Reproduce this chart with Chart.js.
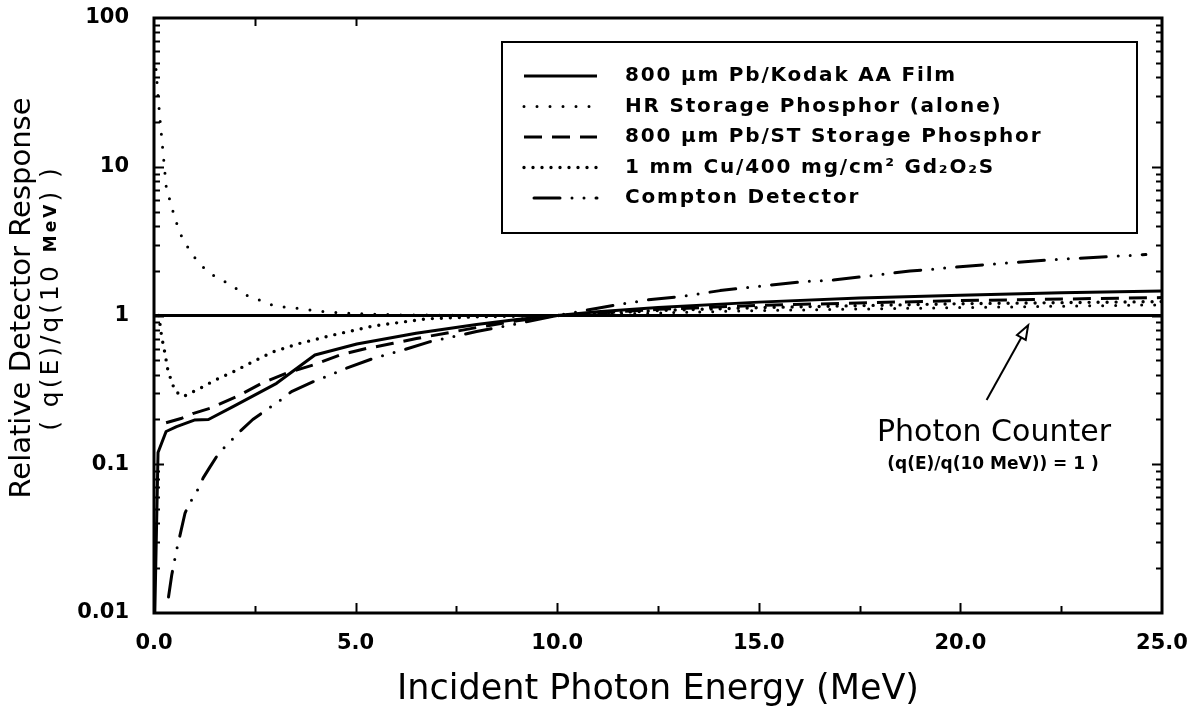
<!DOCTYPE html>
<html>
<head>
<meta charset="utf-8">
<script src="https://cdn.jsdelivr.net/npm/chart.js@4.4.1/dist/chart.umd.min.js"></script>
<style>
  html, body { margin: 0; padding: 0; background: #fff; }
  #wrap { width: 1204px; height: 711px; }
</style>
</head>
<body>
<div id="wrap"><canvas id="c" width="1204" height="711"></canvas></div>
<script>
const FONT = '"DejaVu Sans", sans-serif';

// Incident photon energy (MeV) and relative response q(E)/q(10 MeV) per detector
const kodakE = [0.02, 0.1, 0.3, 0.56, 1.0, 1.35, 1.96, 3.04, 3.99, 5.03, 6.5, 8.0, 9.0, 10.0, 11.0, 12.5, 15.0, 17.5, 20.0, 22.5, 25.0];
const kodakR = [0.01, 0.12, 0.166, 0.179, 0.198, 0.2, 0.244, 0.35, 0.543, 0.643, 0.76, 0.87, 0.94, 1.0, 1.06, 1.13, 1.23, 1.31, 1.37, 1.42, 1.46];

const hrE = [0.05, 0.1, 0.15, 0.31, 0.42, 0.48, 0.59, 0.71, 0.89, 1.1, 1.41, 1.74, 2.05, 2.34, 2.65, 2.98, 3.64, 4.24, 5.0, 6.0, 8.0, 10.0, 12.5, 15.0, 20.0, 25.0];
const hrR = [45, 30, 20.6, 7.0, 5.7, 4.9, 3.95, 3.27, 2.73, 2.26, 1.9, 1.7, 1.51, 1.35, 1.26, 1.16, 1.11, 1.06, 1.03, 1.01, 1.0, 1.0, 1.04, 1.08, 1.13, 1.18];

const stE = [0.3, 0.69, 0.98, 1.39, 2.05, 2.67, 3.29, 3.95, 4.61, 5.27, 5.93, 6.51, 8.0, 9.0, 10.0, 12.5, 15.0, 20.0, 25.0];
const stR = [0.19, 0.204, 0.22, 0.238, 0.285, 0.35, 0.41, 0.465, 0.543, 0.6, 0.65, 0.7, 0.83, 0.92, 1.0, 1.1, 1.17, 1.26, 1.32];

const cuE = [0.12, 0.19, 0.27, 0.35, 0.44, 0.52, 0.73, 0.98, 1.22, 1.47, 1.97, 2.46, 2.96, 3.62, 4.45, 5.44, 6.76, 8.0, 10.0, 12.5, 15.0, 20.0, 25.0];
const cuR = [1.0, 0.72, 0.56, 0.42, 0.36, 0.31, 0.285, 0.308, 0.332, 0.363, 0.419, 0.49, 0.571, 0.65, 0.74, 0.85, 0.95, 0.98, 1.0, 1.08, 1.13, 1.2, 1.24];

const comptonE = [0.36, 0.44, 0.56, 0.63, 0.77, 0.89, 1.06, 1.22, 1.39, 1.6, 2.13, 2.45, 2.78, 3.08, 3.41, 3.95, 4.37, 4.65, 5.44, 6.18, 6.85, 8.0, 9.0, 10.0, 11.0, 12.2, 13.05, 14.04, 14.87, 16.23, 16.85, 18.75, 20.65, 22.47, 23.71, 24.6];
const comptonR = [0.0128, 0.018, 0.0265, 0.032, 0.047, 0.055, 0.0655, 0.081, 0.096, 0.118, 0.166, 0.2, 0.231, 0.263, 0.308, 0.359, 0.398, 0.43, 0.515, 0.586, 0.667, 0.78, 0.88, 1.0, 1.12, 1.27, 1.34, 1.47, 1.56, 1.7, 1.73, 1.99, 2.2, 2.39, 2.49, 2.57];

// Ideal photon counter: flat unit response
const counterE = [0, 25];
const counterR = [1, 1];

const seriesLabels = [
  '800 \u03bcm Pb/Kodak AA Film',
  'HR Storage Phosphor (alone)',
  '800 \u03bcm Pb/ST Storage Phosphor',
  '1 mm Cu/400 mg/cm\u00b2 Gd\u2082O\u2082S',
  'Compton Detector'
];

const xTickValues = [0, 5, 10, 15, 20, 25];
const xTickLabels = ['0.0', '5.0', '10.0', '15.0', '20.0', '25.0'];
const yTickValues = [0.01, 0.1, 1, 10, 100];
const yTickLabels = ['0.01', '0.1', '1', '10', '100'];

// Annotation anchor (data coordinates): arrow from the label up to the unit line
const arrowTail = { x: 20.65, y: 0.27 };
const arrowTip = { x: 21.68, y: 0.86 };

const zip = (xs, ys) => xs.map((x, i) => ({ x, y: ys[i] }));

function lineSet(label, xs, ys, style) {
  return Object.assign({
    label,
    data: zip(xs, ys),
    borderColor: '#000',
    backgroundColor: '#000',
    borderWidth: 3,
    borderDash: [],
    borderCapStyle: 'butt',
    borderJoinStyle: 'round',
    pointRadius: 0,
    fill: false,
    tension: 0
  }, style);
}

const datasets = [
  lineSet(seriesLabels[0], kodakE, kodakR, { borderWidth: 3 }),
  lineSet(seriesLabels[1], hrE, hrR, { borderWidth: 3, borderDash: [0, 13], borderCapStyle: 'round' }),
  lineSet(seriesLabels[2], stE, stR, { borderWidth: 3, borderDash: [18, 10] }),
  lineSet(seriesLabels[3], cuE, cuR, { borderWidth: 3.4, borderDash: [0, 9], borderCapStyle: 'round' }),
  lineSet(seriesLabels[4], comptonE, comptonR, { borderWidth: 3, borderDash: [26, 12, 0, 12, 0, 12], borderCapStyle: 'round' }),
  lineSet('Photon Counter', counterE, counterR, { borderWidth: 3, inLegend: false })
];

// Frame, inward tick marks, boxed legend, axis titles and the photon-counter note
const decorations = {
  id: 'decorations',
  afterDatasetsDraw(chart) {
    const ctx = chart.ctx;
    const a = chart.chartArea;
    const xs = chart.scales.x, ys = chart.scales.y;
    ctx.save();
    ctx.strokeStyle = '#000';
    ctx.fillStyle = '#000';

    // inward log ticks on left and right edges
    ctx.lineWidth = 2;
    for (let d = 0.01; d < 100; d *= 10) {
      for (let k = 1; k <= 9; k++) {
        const v = d * k;
        if (v <= 0.01 || v >= 100) continue;
        const py = Math.round(ys.getPixelForValue(v)) + 0.5;
        const len = k === 1 ? 10 : 6;
        ctx.beginPath();
        ctx.moveTo(a.left, py); ctx.lineTo(a.left + len, py);
        ctx.moveTo(a.right, py); ctx.lineTo(a.right - len, py);
        ctx.stroke();
      }
    }
    // inward ticks along the bottom and (partly) the top
    for (let e = 2.5; e < 25; e += 2.5) {
      const px = Math.round(xs.getPixelForValue(e)) + 0.5;
      const len = (e % 5 === 0) ? 10 : 7;
      ctx.beginPath();
      ctx.moveTo(px, a.bottom); ctx.lineTo(px, a.bottom - len);
      ctx.stroke();
      if (e <= 5) {
        ctx.beginPath();
        ctx.moveTo(px, a.top); ctx.lineTo(px, a.top + 8);
        ctx.stroke();
      }
    }

    // plot frame
    ctx.lineWidth = 3;
    ctx.strokeRect(a.left, a.top, a.right - a.left, a.bottom - a.top);

    // legend box
    const lx = 502, ly = 42, lw = 635, lh = 191;
    ctx.lineWidth = 2;
    ctx.strokeRect(lx, ly, lw, lh);
    ctx.font = 'bold 20px ' + FONT;
    ctx.textBaseline = 'middle';
    ctx.textAlign = 'left';
    let row = 0;
    chart.data.datasets.forEach(ds => {
      if (ds.inLegend === false) return;
      const cy = 76 + row * 30.5;
      ctx.save();
      ctx.lineWidth = ds.borderWidth;
      ctx.setLineDash(ds.borderDash || []);
      ctx.lineCap = ds.borderCapStyle || 'butt';
      if (row === 4) ctx.lineDashOffset = 52;
      ctx.beginPath();
      ctx.moveTo(524, cy); ctx.lineTo(597, cy);
      ctx.stroke();
      ctx.restore();
      ctx.save();
      ctx.letterSpacing = '1.8px';
      ctx.fillText(ds.label, 625, cy);
      ctx.restore();
      row++;
    });

    // photon counter note with arrow
    const tx = xs.getPixelForValue(arrowTail.x), ty = ys.getPixelForValue(arrowTail.y);
    const hx = xs.getPixelForValue(arrowTip.x), hy = ys.getPixelForValue(arrowTip.y);
    const ang = Math.atan2(hy - ty, hx - tx);
    const hl = 14, hw = 5;
    const bx = hx - hl * Math.cos(ang), by = hy - hl * Math.sin(ang);
    ctx.lineWidth = 2;
    ctx.beginPath();
    ctx.moveTo(tx, ty); ctx.lineTo(bx, by);
    ctx.stroke();
    ctx.beginPath();
    ctx.moveTo(hx, hy);
    ctx.lineTo(bx + hw * Math.sin(ang), by - hw * Math.cos(ang));
    ctx.lineTo(bx - hw * Math.sin(ang), by + hw * Math.cos(ang));
    ctx.closePath();
    ctx.stroke();

    ctx.textAlign = 'center';
    ctx.font = '30px ' + FONT;
    ctx.fillText('Photon Counter', 994, 433);
    ctx.font = 'bold 17px ' + FONT;
    ctx.fillText('(q(E)/q(10 MeV)) = 1 )', 993, 465);

    // axis titles
    ctx.font = '35px ' + FONT;
    ctx.fillText('Incident Photon Energy (MeV)', 658, 690);

    ctx.translate(22, 298);
    ctx.rotate(-Math.PI / 2);
    ctx.font = '29px ' + FONT;
    ctx.fillText('Relative Detector Response', 0, 0);
    // second line: ( q(E)/q(10 MeV) ) with a smaller unit
    ctx.letterSpacing = '3px';
    const p1 = '( q(E)/q(10 ', p2 = 'MeV', p3 = ') )';
    ctx.font = '25px ' + FONT; const w1 = ctx.measureText(p1).width, w3 = ctx.measureText(p3).width;
    ctx.font = 'bold 17px ' + FONT; const w2 = ctx.measureText(p2).width;
    let sx = -(w1 + w2 + w3) / 2;
    ctx.textAlign = 'left';
    ctx.font = '25px ' + FONT; ctx.fillText(p1, sx, 29); sx += w1;
    ctx.font = 'bold 17px ' + FONT; ctx.fillText(p2, sx, 30); sx += w2;
    ctx.font = '25px ' + FONT; ctx.fillText(p3, sx, 29);
    ctx.restore();
  }
};

new Chart(document.getElementById('c'), {
  type: 'line',
  data: { datasets },
  options: {
    responsive: false,
    animation: false,
    devicePixelRatio: 1,
    layout: { padding: { top: 18, right: 42, left: 0, bottom: 0 } },
    plugins: { legend: { display: false }, tooltip: { enabled: false } },
    scales: {
      x: {
        type: 'linear', min: 0, max: 25,
        grid: { display: false }, border: { display: false },
        afterBuildTicks: s => { s.ticks = xTickValues.map(v => ({ value: v })); },
        afterFit: s => { s.height = 98; s.paddingLeft = 0; s.paddingRight = 0; },
        ticks: {
          autoSkip: false, maxRotation: 0, padding: 10, color: '#000',
          font: { family: FONT, size: 21, weight: 'bold' },
          callback: v => xTickLabels[xTickValues.indexOf(v)]
        }
      },
      y: {
        type: 'logarithmic', min: 0.01, max: 100,
        grid: { display: false }, border: { display: false },
        afterBuildTicks: s => { s.ticks = yTickValues.map(v => ({ value: v })); },
        afterFit: s => { s.width = 154; s.paddingTop = 0; s.paddingBottom = 0; },
        ticks: {
          autoSkip: false, padding: 17, color: '#000',
          font: { family: FONT, size: 21, weight: 'bold' },
          callback: v => yTickLabels[yTickValues.indexOf(v)]
        }
      }
    }
  },
  plugins: [decorations]
});
</script>
</body>
</html>
